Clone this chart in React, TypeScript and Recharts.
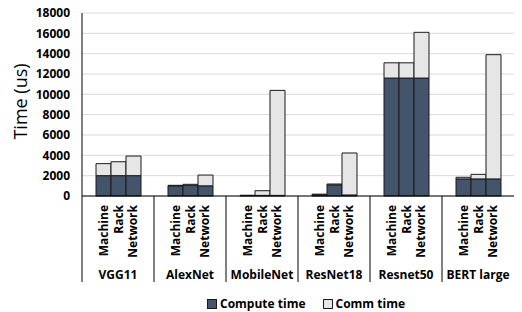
import React from 'react';
import { BarChart, Bar, XAxis, YAxis, CartesianGrid, Legend } from 'recharts';

const models = ['VGG11', 'AlexNet', 'MobileNet', 'ResNet18', 'Resnet50', 'BERT large'];
const configs = ['Machine', 'Rack', 'Network'];
const machineCompute = [2000, 1000, 50, 120, 11600, 1680];
const machineComm = [1180, 50, 20, 60, 1500, 160];
const rackCompute = [2000, 1050, 60, 1100, 11600, 1680];
const rackComm = [1370, 100, 460, 80, 1500, 450];
const networkCompute = [2000, 1000, 60, 100, 11600, 1680];
const networkComm = [1930, 1060, 10330, 4130, 4500, 12220];
const yTicks = [0, 2000, 4000, 6000, 8000, 10000, 12000, 14000, 16000, 18000];
const legendItems = [
  { label: 'Compute time', color: '#44546A' },
  { label: 'Comm time', color: '#E7E6E6' },
];

const data = models.map((m, i) => ({
  model: m,
  mCompute: machineCompute[i],
  mComm: machineComm[i],
  rCompute: rackCompute[i],
  rComm: rackComm[i],
  nCompute: networkCompute[i],
  nComm: networkComm[i],
}));

const W = 522;
const H = 312;
const LEFT = 82;
const RIGHT = 8;
const CAT_GAP = 14;
const BAND = (W - LEFT - RIGHT) / models.length;
const BAR_W = (BAND - 2 * CAT_GAP) / 3;
const FONT = "'Open Sans', sans-serif";
const COMPUTE = '#44546A';
const COMM = '#E7E6E6';
const EDGE = '#1a1a1a';

const XTick = (props: any) => {
  const { x, y, payload } = props;
  return (
    <g>
      {configs.map((c, i) => {
        const cx = x + (i - 1) * BAR_W;
        const cy = y + 9;
        return (
          <text
            key={c}
            x={cx}
            y={cy}
            transform={`rotate(-90, ${cx}, ${cy})`}
            textAnchor="end"
            dominantBaseline="central"
            fontFamily={FONT}
            fontWeight={700}
            fontSize={12}
            fill="#000"
          >
            {c}
          </text>
        );
      })}
      <text
        x={x}
        y={y + 78}
        textAnchor="middle"
        dominantBaseline="central"
        fontFamily={FONT}
        fontWeight={700}
        fontSize={12}
        fill="#000"
      >
        {payload.value}
      </text>
      <line x1={x - BAND / 2} x2={x - BAND / 2} y1={y} y2={y + 86} stroke="#000" strokeWidth={1} />
    </g>
  );
};

const LegendContent = () => (
  <div
    style={{
      display: 'flex',
      justifyContent: 'flex-start',
      gap: 17,
      fontFamily: FONT,
      fontWeight: 700,
      fontSize: 12,
      color: '#000',
      paddingLeft: 207,
      paddingTop: 6,
      lineHeight: '16px',
    }}
  >
    {legendItems.map((it) => (
      <div key={it.label} style={{ display: 'flex', alignItems: 'center' }}>
        <span
          style={{
            display: 'inline-block',
            width: 8,
            height: 8,
            background: it.color,
            border: `1px solid ${EDGE}`,
            marginRight: 3,
          }}
        />
        <span>{it.label}</span>
      </div>
    ))}
  </div>
);

const YLabel = (props: any) => {
  const { viewBox } = props;
  const cx = 20;
  const cy = viewBox.y + viewBox.height / 2 - 3;
  return (
    <text
      x={cx}
      y={cy}
      transform={`rotate(-90, ${cx}, ${cy})`}
      textAnchor="middle"
      dominantBaseline="central"
      fontFamily={FONT}
      fontSize={18}
      fill="#000"
    >
      Time (us)
    </text>
  );
};

export default function App() {
  return (
    <div style={{ position: 'absolute', left: 0, top: 0, width: W, height: H, background: '#fff' }}>
      <BarChart
        width={W}
        height={H}
        data={data}
        margin={{ top: 13, right: RIGHT, left: 0, bottom: 0 }}
        barGap={0}
        barCategoryGap={CAT_GAP}
        style={{ fontFamily: FONT }}
      >
        <CartesianGrid vertical={false} stroke="#D9D9D9" />
        <XAxis
          dataKey="model"
          height={94}
          axisLine={{ stroke: '#000' }}
          tickLine={false}
          tickSize={0}
          tickMargin={0}
          interval={0}
          tick={<XTick />}
        />
        <XAxis
          xAxisId="top"
          dataKey="model"
          orientation="top"
          height={0}
          tick={false}
          tickLine={false}
          axisLine={{ stroke: '#000' }}
        />
        <YAxis
          width={LEFT}
          domain={[0, 18000]}
          ticks={yTicks}
          interval={0}
          axisLine={{ stroke: '#000' }}
          tickLine={false}
          tickSize={0}
          tickMargin={12}
          tick={{ fontFamily: FONT, fontWeight: 700, fontSize: 12, fill: '#000' }}
          label={<YLabel />}
        />
        <YAxis
          yAxisId="right"
          orientation="right"
          width={0}
          domain={[0, 18000]}
          tick={false}
          tickLine={false}
          axisLine={{ stroke: '#000' }}
        />
        <Legend verticalAlign="bottom" height={22} content={<LegendContent />} />
        <Bar dataKey="mCompute" stackId="m" fill={COMPUTE} stroke={EDGE} strokeWidth={1} isAnimationActive={false} />
        <Bar dataKey="mComm" stackId="m" fill={COMM} stroke={EDGE} strokeWidth={1} isAnimationActive={false} />
        <Bar dataKey="rCompute" stackId="r" fill={COMPUTE} stroke={EDGE} strokeWidth={1} isAnimationActive={false} />
        <Bar dataKey="rComm" stackId="r" fill={COMM} stroke={EDGE} strokeWidth={1} isAnimationActive={false} />
        <Bar dataKey="nCompute" stackId="n" fill={COMPUTE} stroke={EDGE} strokeWidth={1} isAnimationActive={false} />
        <Bar dataKey="nComm" stackId="n" fill={COMM} stroke={EDGE} strokeWidth={1} isAnimationActive={false} />
      </BarChart>
    </div>
  );
}
